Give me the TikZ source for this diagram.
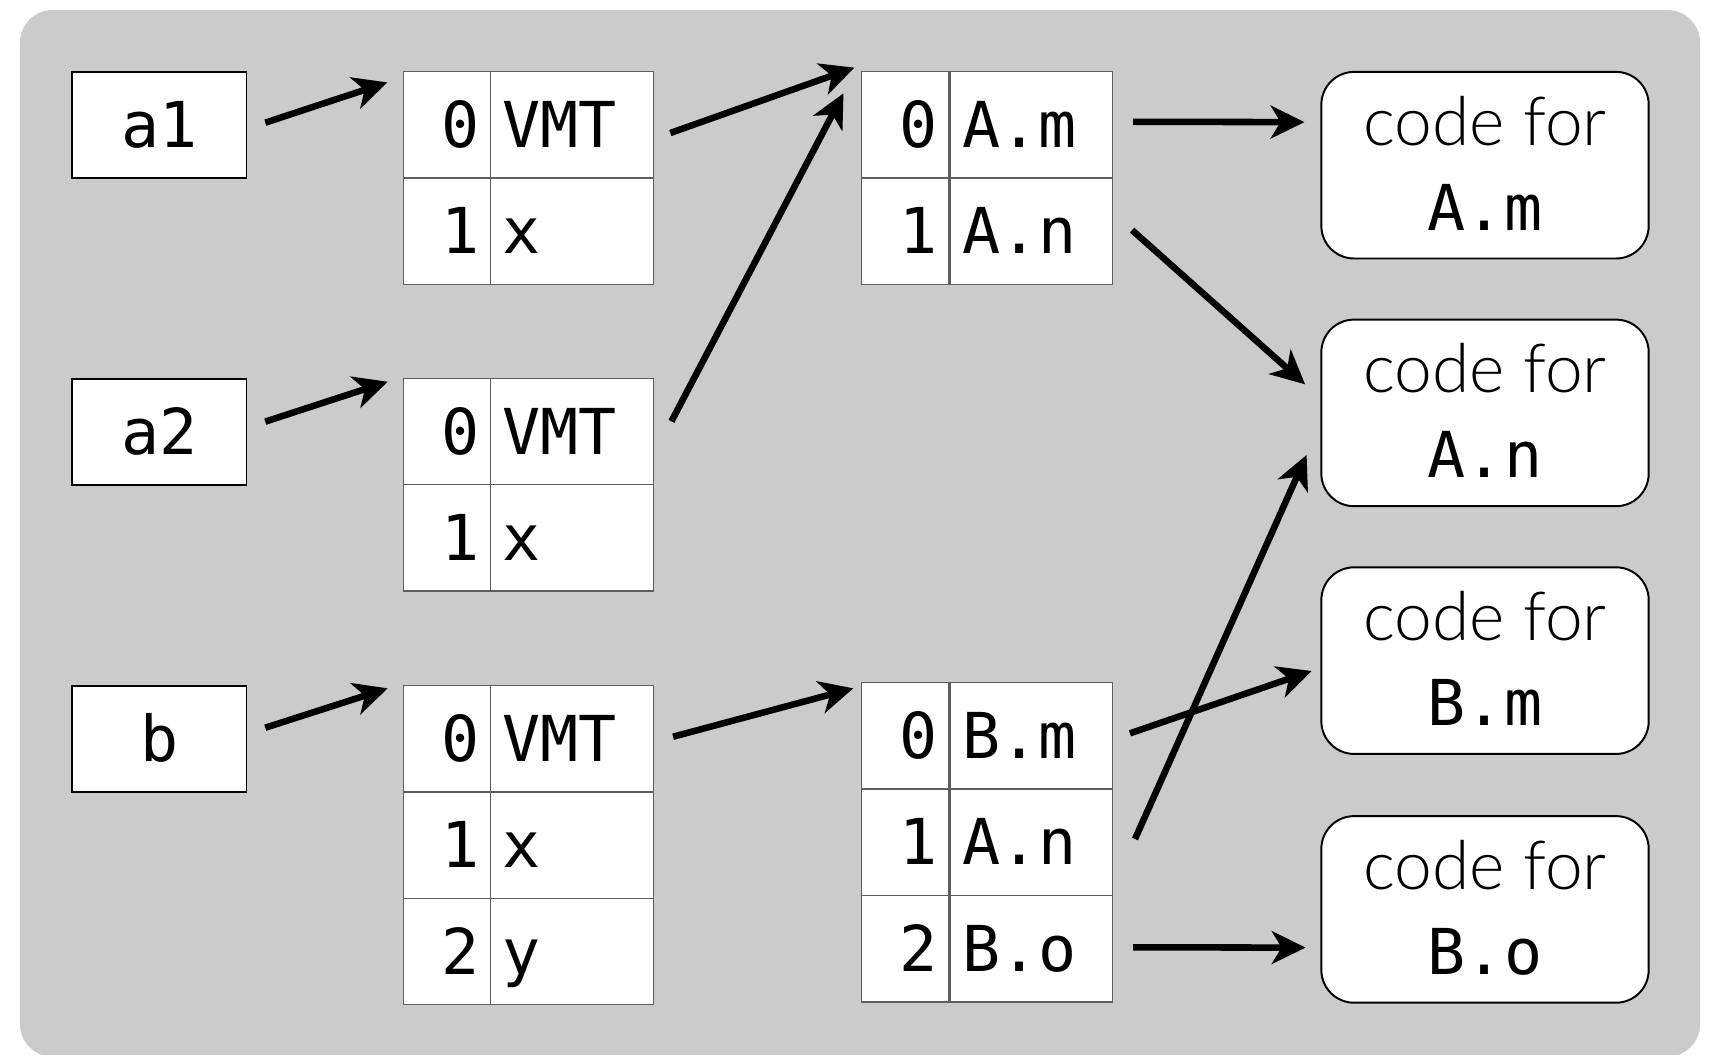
\documentclass[tikz,border=0pt]{standalone}
\usepackage{fontspec}
\setmonofont{DejaVu Sans Mono}
\newfontfamily\codefont{Lato Light}
\usetikzlibrary{arrows.meta}
\definecolor{bggray}{HTML}{CBCBCB}
\definecolor{tline}{HTML}{5E5E5E}
\tikzset{
  monotext/.style={font=\ttfamily\fontsize{58}{60}\selectfont},
  var/.style={draw=black, line width=1.8pt, fill=white, minimum width=160pt, minimum height=97.5pt,
    inner sep=0pt, anchor=north west, monotext, text height=41.5pt, text depth=0pt},
  cell/.style={draw=tline, line width=1.3pt, fill=white, minimum height=97.5pt, inner sep=0pt,
    anchor=north west, monotext, text height=41.5pt, text depth=0pt},
  idx/.style={cell, minimum width=80pt, text width=60pt, align=right},
  val/.style={cell, minimum width=149pt, text width=127pt, align=left},
  codebox/.style={draw=black, line width=1.8pt, fill=white, rounded corners=30pt,
    minimum width=300pt, minimum height=171pt, inner sep=0pt, anchor=north west},
  codeline/.style={font=\codefont\fontsize{62}{64}\selectfont, anchor=base, inner sep=0pt},
  codename/.style={monotext, anchor=base, inner sep=0pt},
  ptr/.style={line width=6pt, -{Stealth[length=31pt, width=30pt, inset=9pt]}}
}
\begin{document}
\begin{tikzpicture}[x=1pt,y=-1pt]
\useasboundingbox (0,0) rectangle (1568,966);
\path[fill=bggray, rounded corners=30pt] (18.3,9.2) rectangle (1558,968.5);

% variables
\node[var] (a1) at (65,65) {a1};
\node[var] (a2) at (65,346) {a2};
\node[var] (b) at (65,627.5) {b};

% object a1
\node[idx] (tA0i) at (369,65) {0};
\node[val] (tA0v) at (449,65) {VMT};
\node[idx] (tA1i) at (369,162.5) {1};
\node[val] (tA1v) at (449,162.5) {x};
% object a2
\node[idx] (tB0i) at (369,346) {0};
\node[val] (tB0v) at (449,346) {VMT};
\node[idx] (tB1i) at (369,443.5) {1};
\node[val] (tB1v) at (449,443.5) {x};
% object b
\node[idx] (tC0i) at (369,627.5) {0};
\node[val] (tC0v) at (449,627.5) {VMT};
\node[idx] (tC1i) at (369,725) {1};
\node[val] (tC1v) at (449,725) {x};
\node[idx] (tC2i) at (369,822.5) {2};
\node[val] (tC2v) at (449,822.5) {y};

% VMT A
\node[idx] (vA0i) at (789,65) {0};
\node[val] (vA0v) at (870,65) {A.m};
\node[idx] (vA1i) at (789,162.5) {1};
\node[val] (vA1v) at (870,162.5) {A.n};
% VMT B
\node[idx] (vB0i) at (789,625) {0};
\node[val] (vB0v) at (870,625) {B.m};
\node[idx] (vB1i) at (789,722.5) {1};
\node[val] (vB1v) at (870,722.5) {A.n};
\node[idx] (vB2i) at (789,820) {2};
\node[val] (vB2v) at (870,820) {B.o};

% code boxes
\node[codebox] (cAm) at (1210,65) {};
\node[codebox] (cAn) at (1210,292) {};
\node[codebox] (cBm) at (1210,519) {};
\node[codebox] (cBo) at (1210,747) {};
\node[codeline] (cAm1) at ([shift={(0,68)}]cAm.north) {code for};
\node[codename] (cAm2) at ([shift={(0,146)}]cAm.north) {A.m};
\node[codeline] (cAn1) at ([shift={(0,68)}]cAn.north) {code for};
\node[codename] (cAn2) at ([shift={(0,146)}]cAn.north) {A.n};
\node[codeline] (cBm1) at ([shift={(0,68)}]cBm.north) {code for};
\node[codename] (cBm2) at ([shift={(0,146)}]cBm.north) {B.m};
\node[codeline] (cBo1) at ([shift={(0,68)}]cBo.north) {code for};
\node[codename] (cBo2) at ([shift={(0,146)}]cBo.north) {B.o};

% pointers
\draw[ptr] ([shift={(16.4,-2.25)}]a1.east) -- ([shift={(-14,10.5)}]tA0i.north west);
\draw[ptr] ([shift={(16.3,-9.25)}]a2.east) -- ([shift={(-13.7,3.8)}]tB0i.north west);
\draw[ptr] ([shift={(16.3,-10.25)}]b.east) -- ([shift={(-13.7,3.3)}]tC0i.north west);
\draw[ptr] ([shift={(15,7.5)}]tA0v.east) -- ([shift={(-6,-3)}]vA0i.north west);
\draw[ptr] ([shift={(16,-9.25)}]tB0v.east) -- ([shift={(-16,20.5)}]vA0i.north west);
\draw[ptr] ([shift={(17.5,-1.75)}]tC0v.east) -- ([shift={(-7,5.8)}]vB0i.north west);
\draw[ptr] ([shift={(18,-2.75)}]vA0v.east) -- ([shift={(-14.5,-39.5)}]cAm.west);
\draw[ptr] ([shift={(17.2,-1)}]vA1v.east) -- ([shift={(-14,-26.2)}]cAn.west);
\draw[ptr] ([shift={(15.2,-2.35)}]vB0v.east) -- ([shift={(-8,9.5)}]cBm.west);
\draw[ptr] ([shift={(19.8,-3)}]vB1v.east) -- ([shift={(-12.6,38.5)}]cAn.west);
\draw[ptr] ([shift={(18,-1.25)}]vB2v.east) -- ([shift={(-13.5,35)}]cBo.west);
\end{tikzpicture}
\end{document}
